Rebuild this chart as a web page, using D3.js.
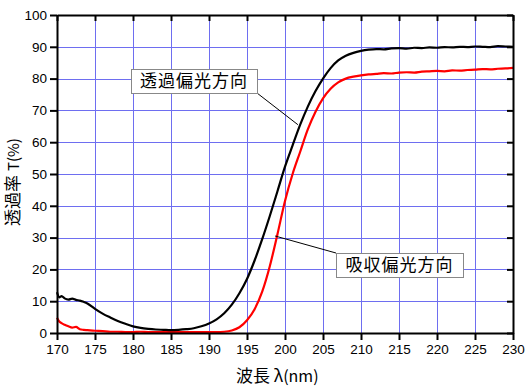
<!DOCTYPE html>
<html>
<head>
<meta charset="utf-8">
<script src="https://cdn.jsdelivr.net/npm/d3@7"></script>
<style>
body { margin: 0; background: #fff; }
svg text { font-family: "Liberation Sans", Arial, sans-serif; }
.jp { font-family: "Noto Sans CJK JP", sans-serif; }
</style>
</head>
<body>
<svg id="chart" width="530" height="390"></svg>
<script>
// wavelength (nm) and transmittance (%)
var wl = [170, 170.3, 170.6, 171, 171.5, 172, 172.5, 173, 173.5, 174, 175, 176, 177, 178, 179, 180, 181, 182, 183, 184, 185, 186, 187, 188, 189, 190,
          191, 192, 193, 194, 195, 196, 197, 198, 199, 200, 201, 202, 203, 204, 205, 206, 207, 208, 209, 210,
          211, 212, 213, 214, 215, 216, 217, 218, 219, 220, 221, 222, 223, 224, 225, 226, 227, 228, 229, 230];
var transT = [12.8, 11.2, 11.6, 10.9, 10.5, 10.8, 10.4, 10.2, 9.8, 9.3, 7.6, 6.1, 4.9, 3.8, 2.9, 2.1, 1.6, 1.3, 1.1, 1.0, 0.9, 1.0, 1.2, 1.5, 2.1, 3.0,
              4.3, 6.2, 8.9, 12.5, 17, 22.8, 29.5, 36.8, 44.5, 52.3, 59, 65.5, 71.2, 76, 80, 83.3, 85.7, 87.2, 88.1, 88.7,
              89.1, 89.3, 89.2, 89.5, 89.6, 89.4, 89.7, 89.6, 89.8, 89.7, 89.9, 89.8, 90.0, 89.9, 90.1, 90.0, 89.9, 90.2, 90.1, 90.0];
var absT = [4.8, 3.6, 3.1, 2.6, 2.1, 1.7, 1.9, 1.2, 1.0, 0.9, 0.7, 0.6, 0.4, 0.4, 0.3, 0.3, 0.4, 0.3, 0.3, 0.3, 0.3, 0.3, 0.3, 0.3, 0.3, 0.3,
            0.3, 0.4, 0.8, 1.8, 4.0, 7.5, 13, 21, 31, 41.5, 50, 57, 64, 69.5, 73.8, 76.8, 78.8, 80.0, 80.6, 81.0,
            81.3, 81.5, 81.7, 81.6, 81.9, 82.0, 81.9, 82.2, 82.3, 82.4, 82.3, 82.6, 82.5, 82.7, 82.8, 83.0, 82.9, 83.1, 83.2, 83.4];
var xTicks = d3.range(170, 231, 5);
var yTicks = d3.range(0, 101, 10);

var svg = d3.select("#chart");
var pL = 57, pR = 513, pT = 15, pB = 333;

var x = d3.scaleLinear().domain([170, 230]).range([pL, pR]);
var y = d3.scaleLinear().domain([0, 100]).range([pB, pT]);

// grid
var grid = svg.append("g").attr("stroke", "#6e6ef0").attr("stroke-width", 1);
grid.selectAll("line.v").data(xTicks.slice(1, -1)).enter().append("line")
    .attr("x1", function(d){ return Math.round(x(d)) + 0.5; })
    .attr("x2", function(d){ return Math.round(x(d)) + 0.5; })
    .attr("y1", pT).attr("y2", pB);
grid.selectAll("line.h").data(yTicks.slice(1, -1)).enter().append("line")
    .attr("y1", function(d){ return Math.round(y(d)) + 0.5; })
    .attr("y2", function(d){ return Math.round(y(d)) + 0.5; })
    .attr("x1", pL).attr("x2", pR);

// curves
var line = d3.line()
    .x(function(d){ return x(d[0]); })
    .y(function(d){ return y(d[1]); })
    .curve(d3.curveMonotoneX);

svg.append("path")
    .datum(wl.map(function(w, i){ return [w, absT[i]]; }))
    .attr("fill", "none").attr("stroke", "#ff0000").attr("stroke-width", 2.2)
    .attr("d", line);
svg.append("path")
    .datum(wl.map(function(w, i){ return [w, transT[i]]; }))
    .attr("fill", "none").attr("stroke", "#000").attr("stroke-width", 2.2)
    .attr("d", line);

// axes
function styleAxis(g){
    g.selectAll("path, line").attr("stroke", "#000").attr("stroke-width", 2);
    g.selectAll("text").attr("font-size", 13.5).attr("fill", "#000")
        .style("font-family", "'Liberation Sans', Arial, sans-serif");
}
svg.append("g").attr("transform", "translate(0," + pB + ")")
    .call(d3.axisBottom(x).tickValues(xTicks).tickSize(7).tickSizeOuter(0).tickPadding(4))
    .call(styleAxis);
svg.append("g").attr("transform", "translate(0," + pT + ")")
    .call(d3.axisBottom(x).tickValues(xTicks).tickSize(6).tickSizeOuter(0).tickFormat(""))
    .call(styleAxis);
svg.append("g").attr("transform", "translate(" + pL + ",0)")
    .call(d3.axisLeft(y).tickValues(yTicks).tickSize(7).tickSizeOuter(0).tickPadding(3))
    .call(styleAxis);
svg.append("g").attr("transform", "translate(" + pR + ",0)")
    .call(d3.axisLeft(y).tickValues(yTicks).tickSize(6).tickSizeOuter(0).tickFormat(""))
    .call(styleAxis);

// axis titles
var xt = svg.append("text").attr("class", "jp").attr("x", 236).attr("y", 382)
    .attr("font-size", 17).attr("fill", "#000");
xt.append("tspan").text("波長 λ");
xt.append("tspan").attr("font-size", 16).text("(nm)");

var yt = svg.append("text").attr("class", "jp")
    .attr("transform", "translate(19,182) rotate(-90)")
    .attr("text-anchor", "middle").attr("font-size", 17).attr("fill", "#000");
yt.append("tspan").text("透過率 ");
yt.append("tspan").attr("font-size", 15).text("T(%)");

// annotations
function callout(label, bx, by, bw, bh, lx1, ly1, w, v){
    svg.append("line").attr("x1", lx1).attr("y1", ly1)
        .attr("x2", x(w)).attr("y2", y(v))
        .attr("stroke", "#000").attr("stroke-width", 1);
    svg.append("rect").attr("x", bx + 0.5).attr("y", by + 0.5)
        .attr("width", bw).attr("height", bh)
        .attr("fill", "#fff").attr("stroke", "#888").attr("stroke-width", 1);
    svg.append("text").attr("class", "jp")
        .attr("x", bx + bw / 2).attr("y", by + bh / 2 + 6)
        .attr("text-anchor", "middle").attr("font-size", 17)
        .attr("letter-spacing", 1).attr("fill", "#000")
        .text(label);
}
callout("透過偏光方向", 131, 69, 126, 24, 257, 93, 201.7, 65.5);
callout("吸収偏光方向", 336, 253, 127, 24, 336, 253, 198.7, 30.5);
</script>
</body>
</html>
